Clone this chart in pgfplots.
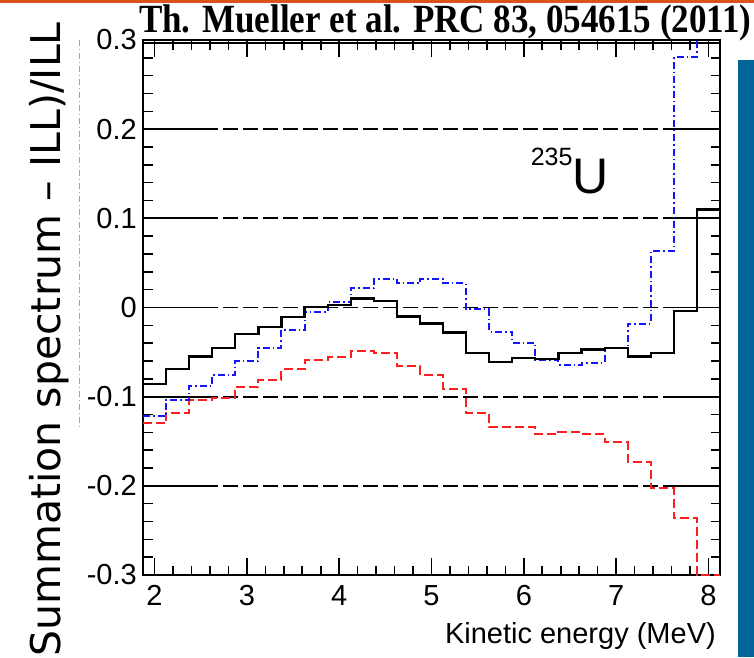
\documentclass[border=0pt]{standalone}
\usepackage{pgfplots}
\pgfplotsset{compat=1.18}
\usepackage{fontspec}
\setmainfont{Liberation Sans}
\newfontfamily\titlefont{Liberation Serif}
\newfontfamily\labelfont{DejaVu Sans}
\definecolor{slideorange}{RGB}{217,83,30}
\definecolor{slideblue}{RGB}{0,102,154}
\definecolor{faintblue}{RGB}{120,170,220}
\definecolor{dblue}{RGB}{20,20,255}
\definecolor{dred}{RGB}{255,30,30}

\pgfplotstableread{
x black blue red
1.875 -0.086 -0.122 -0.130
2.125 -0.069 -0.104 -0.118
2.375 -0.055 -0.088 -0.104
2.625 -0.045 -0.076 -0.101
2.875 -0.030 -0.060 -0.089
3.125 -0.022 -0.045 -0.081
3.375 -0.011 -0.025 -0.069
3.625  0.001 -0.005 -0.059
3.875  0.003  0.006 -0.056
4.125  0.010  0.022 -0.049
4.375  0.007  0.032 -0.051
4.625 -0.010  0.027 -0.066
4.875 -0.018  0.032 -0.076
5.125 -0.028  0.027 -0.091
5.375 -0.051 -0.002 -0.118
5.625 -0.061 -0.027 -0.134
5.875 -0.057 -0.040 -0.134
6.125 -0.058 -0.059 -0.142
6.375 -0.051 -0.064 -0.140
6.625 -0.047 -0.062 -0.142
6.875 -0.045 -0.045 -0.151
7.125 -0.055 -0.018 -0.173
7.375 -0.051  0.063 -0.202
7.625 -0.004  0.281 -0.236
7.875  0.110  0.320 -0.300
8.125  0.110  0.320 -0.300
}\spectra

\begin{document}
\begin{tikzpicture}[x=1pt,y=1pt]
\useasboundingbox (0,0) rectangle (754,657);
% slide decorations
\fill[slideorange] (0,654) rectangle (754,657);
\fill[slideblue] (738,0) rectangle (754,597);
\draw[faintblue, line width=0.8pt, dash pattern=on 6pt off 3pt on 1pt off 3pt] (79,617) -- (79,227);

\begin{axis}[
  at={(143pt,82pt)}, anchor=south west,
  width=577pt, height=535pt, scale only axis,
  xmin=1.875, xmax=8.125, ymin=-0.3, ymax=0.3,
  xtick={2,3,4,5,6,7,8},
  xticklabels={2,3,4,5,6,7,8},
  ytick={-0.3,-0.2,-0.1,0,0.1,0.2,0.3},
  yticklabels={-0.3,-0.2,-0.1,0,0.1,0.2,0.3},
  minor x tick num=4, minor y tick num=4,
  tick align=inside,
  major tick length=17pt, minor tick length=9.5pt,
  tick style={black, line width=1.6pt},
  axis line style={black, line width=2.8pt},
  ymajorgrids=true,
  grid style={black, line width=1.8pt, dash pattern=on 15pt off 5pt},
  ticklabel style={font=\fontsize{29}{29}\selectfont, inner sep=0pt},
  xticklabel style={yshift=-10pt},
  yticklabel style={xshift=-6pt},
  clip=true,
]
% solid ends of reference lines
\draw[black, line width=1.8pt] (axis cs:1.875,0.2) -- (axis cs:2.53,0.2);
\draw[black, line width=1.8pt] (axis cs:1.875,0.1) -- (axis cs:2.53,0.1);
\draw[black, line width=1.8pt] (axis cs:1.875,0) -- (axis cs:2.53,0);
\draw[black, line width=1.8pt] (axis cs:1.875,-0.1) -- (axis cs:2.53,-0.1);
\draw[black, line width=1.8pt] (axis cs:1.875,-0.2) -- (axis cs:2.53,-0.2);
\draw[black, line width=1.8pt] (axis cs:7.55,0.2) -- (axis cs:8.125,0.2);
\draw[black, line width=1.8pt] (axis cs:7.55,0.1) -- (axis cs:8.125,0.1);
\draw[black, line width=1.8pt] (axis cs:7.55,0) -- (axis cs:8.125,0);
\draw[black, line width=1.8pt] (axis cs:7.55,-0.1) -- (axis cs:8.125,-0.1);
\draw[black, line width=1.8pt] (axis cs:7.55,-0.2) -- (axis cs:8.125,-0.2);
% inner top line (double top frame)
\draw[black, line width=1.4pt] (axis cs:1.875,0.2965) -- (axis cs:8.125,0.2965);

\addplot[const plot, dred, line width=2pt, dash pattern=on 9pt off 4pt] table[x=x, y=red] {\spectra};
\addplot[const plot, dblue, line width=2pt, dash pattern=on 7pt off 3pt on 1.5pt off 3pt] table[x=x, y=blue] {\spectra};
\addplot[const plot, black, line width=2.2pt] table[x=x, y=black] {\spectra};

\node[anchor=base west, inner sep=0pt, font=\fontsize{50}{50}\selectfont] at (axis cs:6.53,0.128) {U};
\node[anchor=base east, inner sep=0pt, font=\fontsize{25}{25}\selectfont, yshift=28pt] at (axis cs:6.53,0.128) {235};
\end{axis}

% axis labels and title
\node[anchor=base east, inner sep=0pt, font=\fontsize{29}{29}\selectfont] at (716,14) {Kinetic energy (MeV)};
\node[rotate=90, anchor=base west, inner sep=0pt, font=\labelfont\fontsize{41}{41}\selectfont] at (60,0) {Summation spectrum – ILL)/ILL};
\node[anchor=base west, inner sep=0pt, xscale=0.875, font=\titlefont\bfseries\fontsize{40}{40}\selectfont] at (139,624) {Th. Mueller et al. PRC 83, 054615 (2011)};
\end{tikzpicture}
\end{document}
